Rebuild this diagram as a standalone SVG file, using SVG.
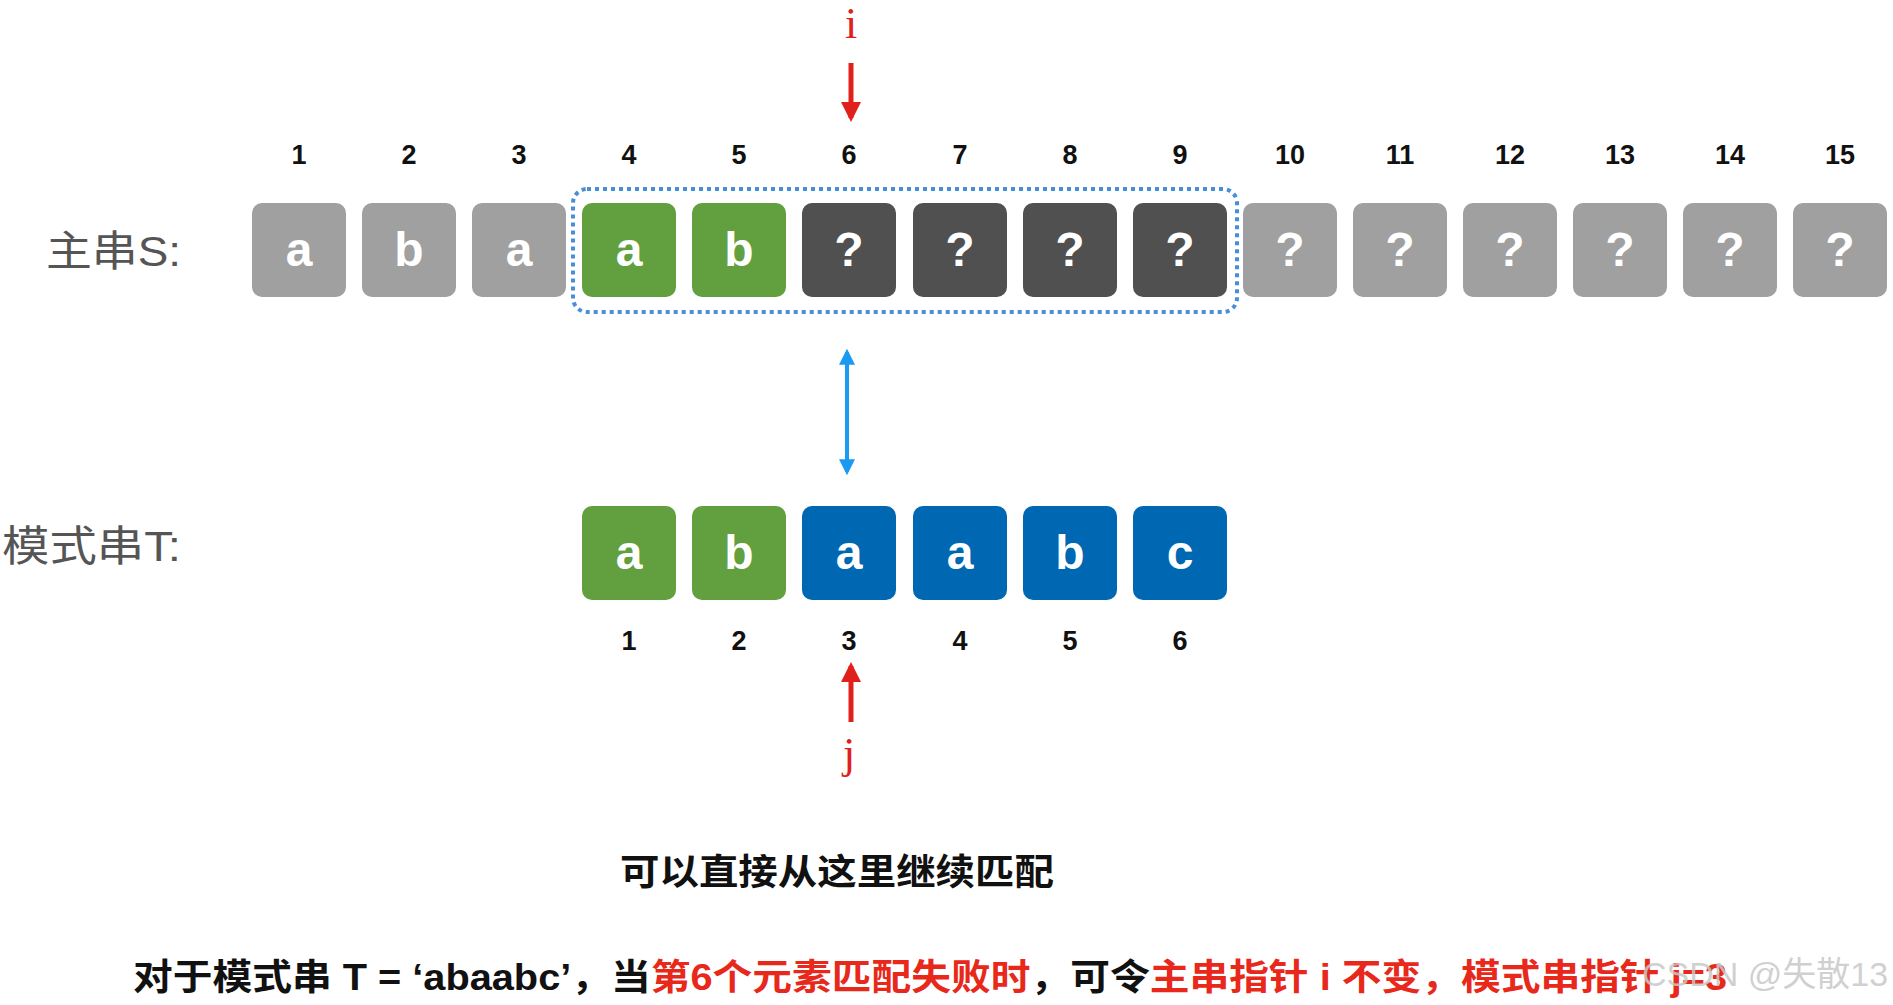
<svg xmlns="http://www.w3.org/2000/svg" width="1893" height="1005" viewBox="0 0 1893 1005">
<style>
.bx{rx:10;ry:10}
.g{fill:#a0a0a0}.gr{fill:#62a03f}.dk{fill:#505050}.bl{fill:#0068b2}
.ch{font-family:"Liberation Sans",Arial,sans-serif;font-weight:bold;font-size:48px;fill:#fff;text-anchor:middle}
.num{font-family:"Liberation Sans",Arial,sans-serif;font-weight:bold;font-size:27px;fill:#111;text-anchor:middle}
.lab{font-family:"Liberation Sans","Noto Sans CJK SC",sans-serif;font-size:42px;fill:#555}
.ptr{font-family:"Liberation Serif",serif;font-size:44px;fill:#e0201a;text-anchor:middle}
.cap{font-family:"Liberation Sans","Noto Sans CJK SC",sans-serif;font-weight:bold;font-size:36px;fill:#111}
.red{fill:#e8281a}
</style>
<defs>
<marker id="ar-red" viewBox="0 0 10 10" refX="8" refY="5" markerWidth="4" markerHeight="4" orient="auto"><path d="M0,0L10,5L0,10z" fill="#e0201a"/></marker>
<marker id="ar-blue" viewBox="0 0 10 10" refX="8" refY="5" markerWidth="4" markerHeight="4" orient="auto-start-reverse"><path d="M0,0L10,5L0,10z" fill="#1a9af0"/></marker>
</defs>
<text class="lab" x="46" y="266" textLength="135" lengthAdjust="spacingAndGlyphs">主串S:</text>
<text class="lab" x="2" y="561" textLength="179" lengthAdjust="spacingAndGlyphs">模式串T:</text>
<g id="s-row">
<g id="s1"><rect class="bx g" x="252" y="203" width="94" height="94"/><text class="ch" x="299" y="266">a</text><text class="num" x="299" y="164">1</text></g>
<g id="s2"><rect class="bx g" x="362" y="203" width="94" height="94"/><text class="ch" x="409" y="266">b</text><text class="num" x="409" y="164">2</text></g>
<g id="s3"><rect class="bx g" x="472" y="203" width="94" height="94"/><text class="ch" x="519" y="266">a</text><text class="num" x="519" y="164">3</text></g>
<g id="s4"><rect class="bx gr" x="582" y="203" width="94" height="94"/><text class="ch" x="629" y="266">a</text><text class="num" x="629" y="164">4</text></g>
<g id="s5"><rect class="bx gr" x="692" y="203" width="94" height="94"/><text class="ch" x="739" y="266">b</text><text class="num" x="739" y="164">5</text></g>
<g id="s6"><rect class="bx dk" x="802" y="203" width="94" height="94"/><text class="ch" x="849" y="266">?</text><text class="num" x="849" y="164">6</text></g>
<g id="s7"><rect class="bx dk" x="913" y="203" width="94" height="94"/><text class="ch" x="960" y="266">?</text><text class="num" x="960" y="164">7</text></g>
<g id="s8"><rect class="bx dk" x="1023" y="203" width="94" height="94"/><text class="ch" x="1070" y="266">?</text><text class="num" x="1070" y="164">8</text></g>
<g id="s9"><rect class="bx dk" x="1133" y="203" width="94" height="94"/><text class="ch" x="1180" y="266">?</text><text class="num" x="1180" y="164">9</text></g>
<g id="s10"><rect class="bx g" x="1243" y="203" width="94" height="94"/><text class="ch" x="1290" y="266">?</text><text class="num" x="1290" y="164">10</text></g>
<g id="s11"><rect class="bx g" x="1353" y="203" width="94" height="94"/><text class="ch" x="1400" y="266">?</text><text class="num" x="1400" y="164">11</text></g>
<g id="s12"><rect class="bx g" x="1463" y="203" width="94" height="94"/><text class="ch" x="1510" y="266">?</text><text class="num" x="1510" y="164">12</text></g>
<g id="s13"><rect class="bx g" x="1573" y="203" width="94" height="94"/><text class="ch" x="1620" y="266">?</text><text class="num" x="1620" y="164">13</text></g>
<g id="s14"><rect class="bx g" x="1683" y="203" width="94" height="94"/><text class="ch" x="1730" y="266">?</text><text class="num" x="1730" y="164">14</text></g>
<g id="s15"><rect class="bx g" x="1793" y="203" width="94" height="94"/><text class="ch" x="1840" y="266">?</text><text class="num" x="1840" y="164">15</text></g>
</g>
<g id="window"><rect x="573" y="189" width="664" height="123" rx="14" fill="none" stroke="#4a8fd6" stroke-width="4" stroke-dasharray="4 4"/></g>
<g id="t-row">
<g id="t1"><rect class="bx gr" x="582" y="506" width="94" height="94"/><text class="ch" x="629" y="569">a</text><text class="num" x="629" y="650">1</text></g>
<g id="t2"><rect class="bx gr" x="692" y="506" width="94" height="94"/><text class="ch" x="739" y="569">b</text><text class="num" x="739" y="650">2</text></g>
<g id="t3"><rect class="bx bl" x="802" y="506" width="94" height="94"/><text class="ch" x="849" y="569">a</text><text class="num" x="849" y="650">3</text></g>
<g id="t4"><rect class="bx bl" x="913" y="506" width="94" height="94"/><text class="ch" x="960" y="569">a</text><text class="num" x="960" y="650">4</text></g>
<g id="t5"><rect class="bx bl" x="1023" y="506" width="94" height="94"/><text class="ch" x="1070" y="569">b</text><text class="num" x="1070" y="650">5</text></g>
<g id="t6"><rect class="bx bl" x="1133" y="506" width="94" height="94"/><text class="ch" x="1180" y="569">c</text><text class="num" x="1180" y="650">6</text></g>
</g>
<g id="i-ptr"><text class="ptr" x="851" y="38">i</text></g>
<g id="j-ptr"><text class="ptr" x="849" y="768">j</text></g>
<g id="connectors">
<line x1="851" y1="63" x2="851" y2="118" stroke="#e0201a" stroke-width="5" marker-end="url(#ar-red)"/>
<line x1="851" y1="722" x2="851" y2="666" stroke="#e0201a" stroke-width="5" marker-end="url(#ar-red)"/>
<line x1="847" y1="352" x2="847" y2="472" stroke="#1a9af0" stroke-width="4" marker-start="url(#ar-blue)" marker-end="url(#ar-blue)"/>
</g>
<text class="cap" x="620" y="885" textLength="434" lengthAdjust="spacingAndGlyphs">可以直接从这里继续匹配</text>
<text class="cap" x="133" y="990" textLength="1594" lengthAdjust="spacingAndGlyphs">对于模式串 T = ‘abaabc’，当<tspan class="red">第6个元素匹配失败时</tspan>，可令<tspan class="red">主串指针 i 不变，模式串指针 j=3</tspan></text>
<text x="1642" y="986" font-family="Liberation Sans,Noto Sans CJK SC,sans-serif" font-size="34" fill="#c8c8c8" fill-opacity="0.85">CSDN @失散13</text>
</svg>
